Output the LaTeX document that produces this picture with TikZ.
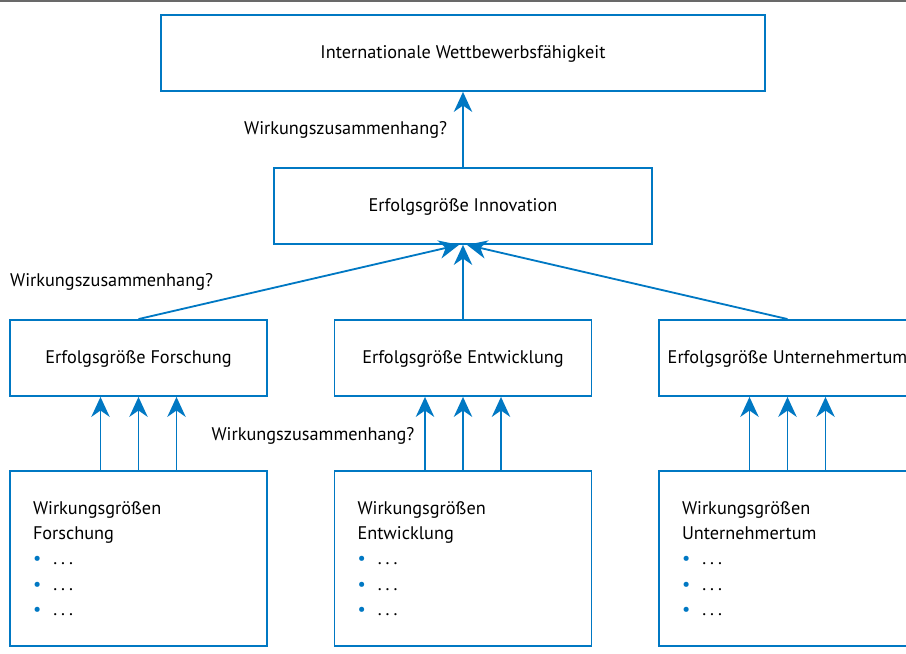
\documentclass[tikz,border=0pt]{standalone}
\usepackage{fontspec}
\setmainfont{PT Sans}
\usetikzlibrary{arrows.meta,positioning}
\definecolor{lineblue}{RGB}{0,120,195}
\definecolor{bargray}{RGB}{105,105,105}
\newcommand{\dotitem}{\textcolor{lineblue}{\textbullet}\hspace{0.3cm}.\hspace{0.1cm}.\hspace{0.1cm}.}

\begin{document}
\begin{tikzpicture}[
  frame/.style={rectangle,draw=lineblue,line width=1.3pt,fill=white,
                minimum width=6.425cm,inner sep=0pt},
  box/.style={frame,minimum height=1.9cm,text height=1.05em,
              font=\fontsize{13}{15}\selectfont},
  listbox/.style={frame,minimum height=4.375cm,text width=5.275cm,
                  inner xsep=0.575cm,align=left,
                  font=\fontsize{13}{18}\selectfont},
  lbl/.style={font=\fontsize{13}{15}\selectfont,inner sep=0pt},
  arr/.style={-{Stealth[length=0.5cm,width=0.46cm,inset=0.16cm]},
              line width=1.3pt,draw=lineblue},
]
\useasboundingbox (0,0) rectangle (22.65,16.35);
\fill[bargray] (0,16.30) rectangle (22.65,16.35);

%% Top levels
\node[box,minimum width=15.1cm] (iwf)  at (11.575,15.025) {Internationale Wettbewerbsfähigkeit};
\node[box,minimum width=9.45cm] (inno) at (11.575,11.2)   {Erfolgsgröße Innovation};

%% Success measures
\node[box] (forsch) at (3.4625, 7.4) {Erfolgsgröße Forschung};
\node[box] (entw)   at (11.575, 7.4) {Erfolgsgröße Entwicklung};
\node[box] (untern) at (19.6875,7.4) {Erfolgsgröße Unternehmertum};

%% Effect measures
\node[listbox] (wforsch) at (3.4625, 2.3875) {Wirkungsgrößen\\Forschung\\\dotitem\\\dotitem\\\dotitem};
\node[listbox] (wentw)   at (11.575, 2.3875) {Wirkungsgrößen\\Entwicklung\\\dotitem\\\dotitem\\\dotitem};
\node[listbox] (wuntern) at (19.6875,2.3875) {Wirkungsgrößen\\Unternehmertum\\\dotitem\\\dotitem\\\dotitem};

% Labels
\node[lbl] (wz1) at (8.64,13.1)  {Wirkungszusammenhang?};
\node[lbl] (wz2) at (2.79,9.3)   {Wirkungszusammenhang?};
\node[lbl] (wz3) at (7.825,5.45) {Wirkungszusammenhang?};

% Arrows
\draw[arr] (inno.north)   -- (iwf.south);
\draw[arr] (forsch.north) -- ([xshift=-0.1cm]inno.south);
\draw[arr] (entw.north)   -- (inno.south);
\draw[arr] (untern.north) -- ([xshift=0.1cm]inno.south);

\foreach \src/\dst in {wforsch/forsch,wentw/entw,wuntern/untern}
  \foreach \dx in {-0.95,0,0.95}
    \draw[arr] ([xshift=\dx cm]\src.north) -- ([xshift=\dx cm]\dst.south);

\end{tikzpicture}
\end{document}
